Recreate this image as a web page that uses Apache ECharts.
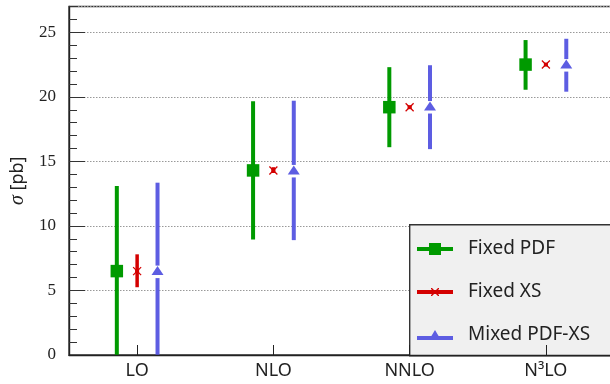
<!DOCTYPE html>
<html>
<head>
<meta charset="utf-8">
<script src="https://cdn.jsdelivr.net/npm/echarts@6/dist/echarts.min.js"></script>
<style>html,body{margin:0;padding:0;background:#fff}#c{width:610px;height:384px}</style>
</head>
<body>
<div id="c"></div>
<script>
// ---- data ----
const categories = ['LO', 'NLO', 'NNLO', 'N³LO'];
const seriesNames = ['Fixed PDF', 'Fixed XS', 'Mixed PDF-XS'];
const fixedPdfCenter = [6.5, 14.3, 19.2, 22.5];
const fixedPdfLow    = [0, 8.95, 16.1, 20.55];
const fixedPdfHigh   = [13.1, 19.65, 22.3, 24.4];
const fixedXsCenter  = [6.5, 14.3, 19.2, 22.5];
const fixedXsLow     = [5.25, 14.1, 19.1, 22.45];
const fixedXsHigh    = [7.8, 14.55, 19.3, 22.55];
const mixedCenter    = [6.5, 14.3, 19.25, 22.5];
const mixedLow       = [0, 8.9, 15.95, 20.4];
const mixedHigh      = [13.35, 19.7, 22.45, 24.5];
const yTicks = [0, 5, 10, 15, 20, 25];

const GREEN = '#009a00', RED = '#d40000', BLUE = '#5d5de2';

function rows(c, lo, hi) { return categories.map((_, i) => [i, c[i], lo[i], hi[i]]); }

function makeRender(kind, offset, color) {
  return function (params, api) {
    const i = api.value(0);
    const pc = api.coord([i, api.value(1)]);
    const plo = api.coord([i, api.value(2)]);
    const phi = api.coord([i, api.value(3)]);
    const x = pc[0] + offset, y = pc[1];
    const ch = [];
    if (kind === 'square') {
      ch.push({type: 'line', shape: {x1: x, y1: phi[1], x2: x, y2: plo[1]}, style: {stroke: color, lineWidth: 4}});
      ch.push({type: 'rect', shape: {x: x - 6.25, y: y - 6.25, width: 12.5, height: 12.5}, style: {fill: color}});
    } else if (kind === 'cross') {
      ch.push({type: 'line', shape: {x1: x, y1: phi[1], x2: x, y2: plo[1]}, style: {stroke: color, lineWidth: 3.5}});
      ch.push({type: 'line', shape: {x1: x - 4, y1: y - 4, x2: x + 4, y2: y + 4}, style: {stroke: color, lineWidth: 1.3}});
      ch.push({type: 'line', shape: {x1: x - 4, y1: y + 4, x2: x + 4, y2: y - 4}, style: {stroke: color, lineWidth: 1.3}});
      ch.push({type: 'rect', shape: {x: x - 2, y: y - 2, width: 4, height: 4}, style: {fill: color}});
    } else {
      ch.push({type: 'line', shape: {x1: x, y1: phi[1], x2: x, y2: y - 5.5}, style: {stroke: color, lineWidth: 4}});
      ch.push({type: 'line', shape: {x1: x, y1: y + 7, x2: x, y2: plo[1]}, style: {stroke: color, lineWidth: 4}});
      ch.push({type: 'polygon', shape: {points: [[x - 6, y + 4], [x, y - 5], [x + 6, y + 4]]}, style: {fill: color}});
    }
    return {type: 'group', children: ch};
  };
}

const chart = echarts.init(document.getElementById('c'), null, {renderer: 'canvas'});
const axisColor = '#222';
chart.setOption({
  animation: false,
  backgroundColor: '#fff',
  grid: {left: 69, width: 545, top: 6.5, bottom: 29, outerBoundsMode: 'none', containLabel: false,
    show: true, borderColor: '#333', borderWidth: 1.4, backgroundColor: 'transparent'},
  graphic: [{
    type: 'rect', left: 409, top: 224, z: 5,
    shape: {width: 260, height: 131},
    style: {fill: '#f0f0f0', stroke: '#333', lineWidth: 1.4}
  }],
  xAxis: {
    type: 'category', data: categories, boundaryGap: true, z: 10,
    axisLine: {lineStyle: {color: axisColor, width: 1.4}},
    axisTick: {show: true, inside: true, alignWithLabel: true, length: 10, lineStyle: {color: axisColor, width: 1}},
    axisLabel: {color: '#222', fontFamily: 'Noto Sans', fontSize: 18, margin: 7},
    splitLine: {show: false}
  },
  yAxis: [{
    type: 'value', min: 0, max: 27, interval: 5,
    name: '{i|σ} [pb]', nameLocation: 'middle', nameGap: 41,
    nameTextStyle: {fontFamily: 'Noto Sans', fontSize: 18, color: '#222',
      rich: {i: {fontFamily: 'Liberation Serif', fontStyle: 'italic', fontSize: 20, color: '#222'}}},
    axisLine: {show: true, lineStyle: {color: axisColor, width: 1.4}},
    axisTick: {show: true, inside: true, length: 16, lineStyle: {color: '#333', width: 1}},
    axisLabel: {color: '#222', fontFamily: 'Liberation Serif', fontSize: 17, margin: 13, showMaxLabel: false,
      formatter: v => (yTicks.indexOf(v) >= 0 ? String(v) : '')},
    splitLine: {show: true, lineStyle: {color: '#999', width: 1, type: [1.5, 1.5]}}
  }, {
    type: 'value', min: 0, max: 27, interval: 1, position: 'left',
    axisLine: {show: false},
    axisTick: {show: true, inside: true, length: 8, lineStyle: {color: '#333', width: 1}},
    axisLabel: {show: false},
    splitLine: {show: false}
  }],
  legend: {
    orient: 'vertical', left: 409, top: 224, z: 6,
    padding: [15, 8, 12, 8], itemGap: 23,
    itemWidth: 36, itemHeight: 12,
    textStyle: {fontFamily: 'Noto Sans', fontSize: 19, color: '#222', lineHeight: 20, padding: [0, 0, 0, 10]},
    data: [
      {name: seriesNames[0], icon: 'path://M0,4H36V8H0Z M12,0H24V12H12Z'},
      {name: seriesNames[1], icon: 'path://M0,2H36V6H0Z M14,0L15,0L18,3L21,0L22,0L22,1L19,4L22,7L22,8L21,8L18,5L15,8L14,8L14,7L17,4L14,1Z'},
      {name: seriesNames[2], icon: 'path://M0,6H36V10H0Z M12,10L18,0L24,10Z'}
    ]
  },
  series: [
    {type: 'custom', name: seriesNames[0], renderItem: makeRender('square', -20.3, GREEN), itemStyle: {color: GREEN},
      encode: {x: 0, y: [1, 2, 3]}, data: rows(fixedPdfCenter, fixedPdfLow, fixedPdfHigh), z: 3},
    {type: 'custom', name: seriesNames[1], renderItem: makeRender('cross', 0, RED), itemStyle: {color: RED},
      encode: {x: 0, y: [1, 2, 3]}, data: rows(fixedXsCenter, fixedXsLow, fixedXsHigh), z: 3},
    {type: 'custom', name: seriesNames[2], renderItem: makeRender('tri', 20.4, BLUE), itemStyle: {color: BLUE},
      encode: {x: 0, y: [1, 2, 3]}, data: rows(mixedCenter, mixedLow, mixedHigh), z: 3}
  ]
});
</script>
</body>
</html>
